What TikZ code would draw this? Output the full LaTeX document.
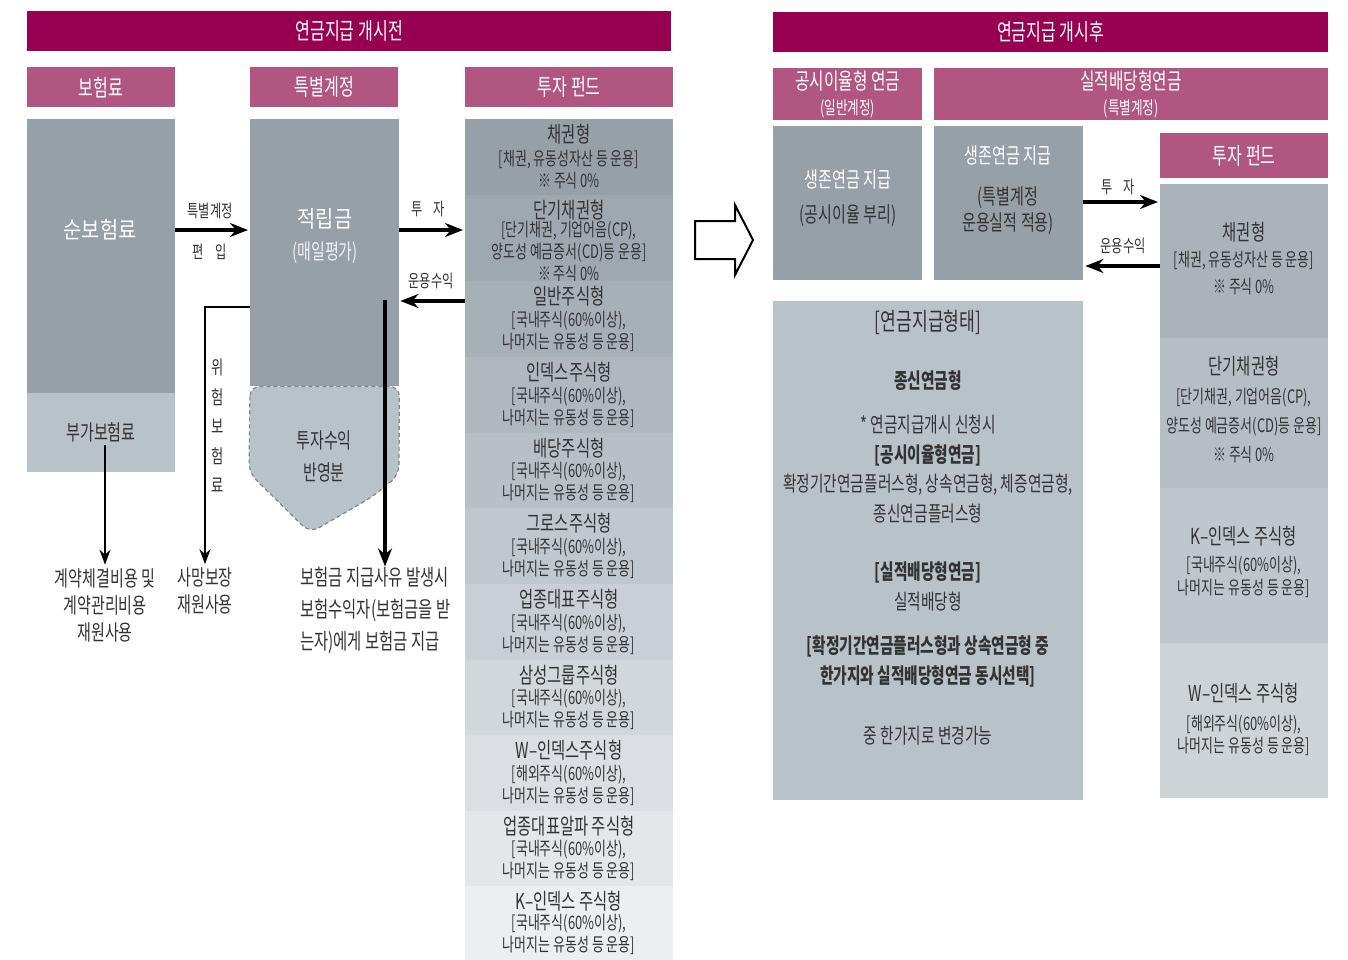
\documentclass[tikz,border=0pt]{standalone}
\usepackage{fontspec}
\usepackage{tikz}
\setmainfont{Noto Sans CJK KR}[FakeStretch=0.7]
\newfontfamily\widefont{Noto Sans CJK KR}[FakeStretch=0.86]
\newcommand*{\fsz}[2]{\fontsize{#1}{#2}\selectfont}
\usetikzlibrary{arrows.meta}
\definecolor{wine}{HTML}{970051}
\definecolor{rose}{HTML}{B05680}
\definecolor{slate}{HTML}{95A0A9}
\definecolor{mist}{HTML}{B8C2C9}
\definecolor{fundlight}{HTML}{ECEFF1}
\definecolor{ink}{HTML}{333333}
\definecolor{rbA}{HTML}{AAB3BA}
\definecolor{rbB}{HTML}{B5BEC4}
\definecolor{rbC}{HTML}{C0C7CC}
\definecolor{rbD}{HTML}{CDD3D7}
\tikzstyle{bar} = [rectangle, inner sep=0pt, anchor=north west]
\tikzstyle{banner} = [bar, fill=wine, text=white, minimum height=40pt, font=\fsz{23}{27}]
\tikzstyle{tab} = [bar, fill=rose, text=white, align=center, font=\fsz{23}{26}]
\tikzstyle{deep} = [bar, fill=slate]
\tikzstyle{pale} = [bar, fill=mist]
\tikzstyle{fund} = [bar, minimum width=208pt]
\tikzstyle{fund title} = [text=ink, font=\fsz{22}{26}]
\tikzstyle{fund note} = [text=ink, align=center, font=\fsz{18.5}{22}]
\tikzstyle{caption} = [text=ink, font=\fsz{17.5}{20}]
\tikzstyle{body} = [text=ink, align=center, font=\fsz{21.5}{27}]
\tikzstyle{flow} = [-{Stealth[length=18pt, width=14pt]}, line width=4.5pt]
\tikzstyle{thin flow} = [-{Stealth[length=15pt, width=11pt]}, line width=2.5pt]

\begin{document}
\begin{tikzpicture}[x=1pt, y=-1pt]
    \useasboundingbox (0,0) rectangle (1348,960);

    % Headers.
    \node (before) [banner, minimum width=644] at (27,11) {연금지급 개시전};
    \node (after) [banner, minimum width=555] at (773,12) {연금지급 개시후};
    \node (prem head) [tab, minimum width=148, minimum height=40] at (27,67) {보험료};
    \node (sep head) [tab, minimum width=148, minimum height=40] at (250,67) {특별계정};
    \node (fund head) [tab, minimum width=208, minimum height=40] at (465,67) {투자 펀드};
    \node (rate head) [tab, minimum width=149, minimum height=52, font=\fsz{22.5}{25}] at (773,68) {공시이율형 연금\\{\fsz{18}{20}(일반계정)}};
    \node (perf head) [tab, minimum width=394, minimum height=52, font=\fsz{22.5}{25}] at (934,68) {실적배당형연금\\{\fsz{18}{20}(특별계정)}};
    \node (rfund head) [tab, minimum width=168, minimum height=45] at (1160,133) {투자 펀드};

    % Premium.
    \node (net) [deep, minimum width=148, minimum height=274] at (27,119) {};
    \node (extra) [pale, minimum width=148, minimum height=79] at (27,393) {};
    \node (net text) [text=white, font=\widefont\fsz{23}{27}] at (100,230) {순보험료};
    \node (extra text) [text=ink, font=\fsz{21.5}{25}] at (101,432) {부가보험료};

    % Separate account.
    \node (reserve) [deep, minimum width=149, minimum height=267] at (250,119) {};
    \filldraw [fill=mist, draw=slate!85!black, dash pattern=on 4pt off 3pt, line width=1.2pt, rounded corners=10pt]
        (reserve.south west) -- (249,473) -- (310,533) -- (372,497) -- (399,475) -- (reserve.south east) -- cycle;
    \node (reserve text) [text=white, font=\widefont\fsz{23}{27}] at (325,219) {적립금};
    \node (reserve sub) [text=white!85!slate, font=\fsz{21.5}{25}] at (325,253) {(매일평가)};
    \node (gain text) [text=ink, align=center, font=\fsz{21.5}{32}] at (324,456) {투자수익\\반영분};

    % Funds before payout.
    \foreach \ytop/\h/\ttl/\note [count=\i] in {
        119/76/채권형/{[채권, 유동성자산 등 운용]\\※ 주식 0\%},
        195/86/단기채권형/{[단기채권, 기업어음(CP),\\양도성 예금증서(CD)등 운용]\\※ 주식 0\%},
        281/76/일반주식형/{[국내주식(60\%이상),\\나머지는 유동성 등 운용]},
        357/76/인덱스주식형/{[국내주식(60\%이상),\\나머지는 유동성 등 운용]},
        433/75/배당주식형/{[국내주식(60\%이상),\\나머지는 유동성 등 운용]},
        508/76/그로스주식형/{[국내주식(60\%이상),\\나머지는 유동성 등 운용]},
        584/76/업종대표주식형/{[국내주식(60\%이상),\\나머지는 유동성 등 운용]},
        660/75/삼성그룹주식형/{[국내주식(60\%이상),\\나머지는 유동성 등 운용]},
        735/76/W–인덱스주식형/{[해외주식(60\%이상),\\나머지는 유동성 등 운용]},
        811/75/업종대표알파 주식형/{[국내주식(60\%이상),\\나머지는 유동성 등 운용]},
        886/74/K–인덱스 주식형/{[국내주식(60\%이상),\\나머지는 유동성 등 운용]}} {
        \pgfmathtruncatemacro\p{100-(\i-1)*10}
        \node (f\i) [fund, minimum height=\h, fill=slate!\p!fundlight] at (465,\ytop) {};
        \node (f\i title) [fund title] at (569,\ytop+15) {\ttl};
        \node (f\i note) [fund note] at (569,\ytop+\h*0.66) {\note};
    }

    % Arrows before payout.
    \draw [flow] (net.east |- 0,230) -- ([xshift=-2pt]reserve.west |- 0,230);
    \node (move a) [caption] at (210,211) {특별계정};
    \node (move b) [caption] at (210,252) {편\hspace{12pt}입};
    \draw [flow] (reserve.east |- 0,230) -- ([xshift=-2pt]f1.west |- 0,230);
    \node (invest) [caption] at (428,209) {투\hspace{10pt}자};
    \draw [flow] (f3.west |- 0,301) -- ([xshift=1pt]reserve.east |- 0,301);
    \node (yield) [caption] at (431,281) {운용수익};

    % Outflows.
    \node (cost text) [body] at (105,605) {계약체결비용 및\\계약관리비용\\재원사용};
    \node (death text) [body] at (205,591) {사망보장\\재원사용};
    \node (payout text) [text=ink, align=left, anchor=west, inner sep=0pt, font=\fsz{22}{32}] at (300,610)
        {보험금 지급사유 발생시\\보험수익자(보험금을 받\\는자)에게 보험금 지급};
    \node (risk text) [caption, align=center, font=\fsz{19}{29.5}] at (218,426) {위\\험\\보\\험\\료};
    \draw [thin flow] ([xshift=4pt]extra text.south) -- ([xshift=4pt]extra text.south |- cost text.north);
    \draw [thin flow] (reserve.west |- 0,307) -| (death text.north);
    \coordinate (pay top) at (385,300);
    \draw [flow] (pay top) -- (pay top |- payout text.north);

    % Change arrow.
    \draw [line width=2pt, fill=white] (695,221) -- (735,221) -- (735,205) -- (753,240)
        -- (735,275) -- (735,259) -- (695,259) -- cycle;

    % After payout.
    \node (fixed pay) [deep, minimum width=149, minimum height=154] at (773,126) {};
    \node (fixed pay a) [text=white, font=\fsz{21.5}{25}] at (848,179) {생존연금 지급};
    \node (fixed pay b) [text=ink, font=\fsz{21.5}{25}] at (848,216) {(공시이율 부리)};
    \node (var pay) [deep, minimum width=149, minimum height=154] at (934,126) {};
    \node (var pay a) [text=white, font=\fsz{21.5}{25}] at (1008,155) {생존연금 지급};
    \node (var pay b) [text=ink, align=center, font=\fsz{21.5}{26}] at (1008,211) {(특별계정\\운용실적 적용)};

    \foreach \ytop/\h/\shade/\dt/\dn/\ls/\ttl/\note [count=\i] in {
        184/154/rbA/48/89/27pt/채권형/{[채권, 유동성자산 등 운용]\\※ 주식 0\%},
        338/150/rbB/28/88/29pt/단기채권형/{[단기채권, 기업어음(CP),\\양도성 예금증서(CD)등 운용]\\※ 주식 0\%},
        488/155/rbC/48/89/23pt/K–인덱스 주식형/{[국내주식(60\%이상),\\나머지는 유동성 등 운용]},
        643/155/rbD/50/92/22pt/W–인덱스 주식형/{[해외주식(60\%이상),\\나머지는 유동성 등 운용]}} {
        \node (rf\i) [bar, minimum width=168, minimum height=\h, fill=\shade] at (1160,\ytop) {};
        \node (rf\i title) [fund title] at (1244,\ytop+\dt) {\ttl};
        \node (rf\i note) [fund note, font=\fsz{18.5}{\ls}] at (1244,\ytop+\dn) {\note};
    }

    \draw [flow] (var pay.east |- 0,202) -- ([xshift=-2pt]rf1.west |- 0,202);
    \node (invest r) [caption] at (1118,187) {투\hspace{10pt}자};
    \draw [flow] (rf1.west |- 0,266) -- ([xshift=2pt]var pay.east |- 0,266);
    \node (yield r) [caption] at (1123,246) {운용수익};

    % Payout types.
    \node (form) [pale, minimum width=310, minimum height=499] at (773,301) {};
    \node (form title) [text=ink, font=\fsz{24.5}{28}] at (928,322) {[연금지급형태]};
    \node (form life) [text=ink, font=\bfseries\fsz{21}{25}] at (928,381) {종신연금형};
    \node (form rate) [body, font=\fsz{21}{29.5}] at (928,469)
        {* 연금지급개시 신청시\\{\bfseries [공시이율형연금]}\\확정기간연금플러스형, 상속연금형, 체증연금형,\\종신연금플러스형};
    \node (form perf) [body, font=\fsz{21}{30}] at (928,586) {{\bfseries [실적배당형연금]}\\실적배당형};
    \node (form both) [body, font=\bfseries\fsz{21}{30}] at (928,661)
        {[확정기간연금플러스형과 상속연금형 중\\한가지와 실적배당형연금 동시선택]};
    \node (form change) [text=ink, font=\fsz{21}{25}] at (928,736) {중 한가지로 변경가능};
\end{tikzpicture}
\end{document}
